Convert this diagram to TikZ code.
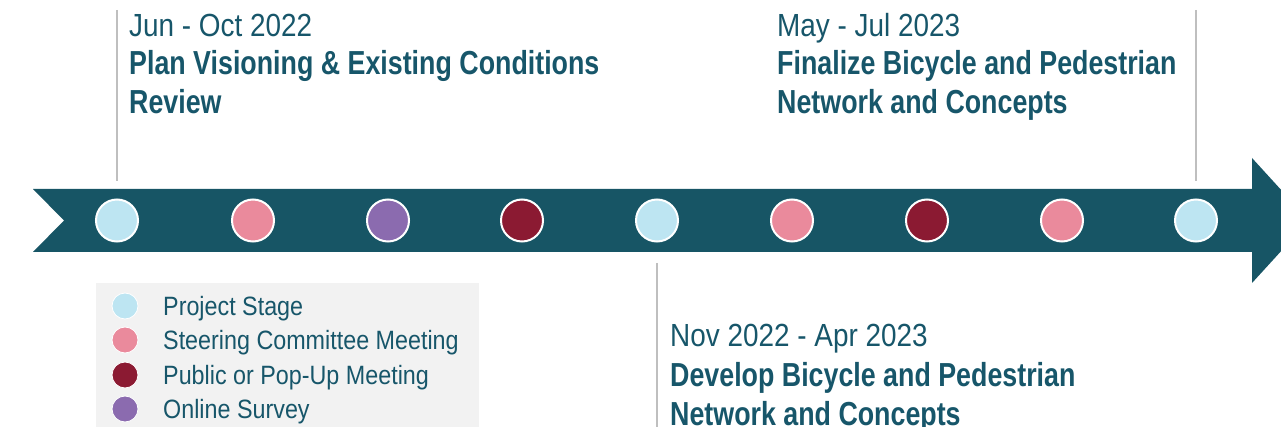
\documentclass[tikz,border=0pt]{standalone}
\usepackage{fontspec}
\setmainfont{Liberation Sans}
\newfontfamily\datef{Liberation Sans}[FakeStretch=0.872]
\newfontfamily\titlef{Liberation Sans}[FakeStretch=0.805]
\newfontfamily\legf{Liberation Sans}[FakeStretch=0.88]
\definecolor{band}{HTML}{175565}
\definecolor{txt}{HTML}{17566A}
\definecolor{stage}{HTML}{BDE5F2}
\definecolor{steer}{HTML}{EA8A9C}
\definecolor{public}{HTML}{8B1A32}
\definecolor{survey}{HTML}{8B6BAF}
\definecolor{legbg}{HTML}{F2F2F2}
\definecolor{gline}{HTML}{BFBFBF}
\begin{document}
\begin{tikzpicture}[x=1pt,y=-1pt,
  dot/.style={circle,draw=white,line width=2pt,minimum size=42pt,inner sep=0pt},
  ldot/.style={circle,draw=white,line width=0.8pt,minimum size=26pt,inner sep=0pt},
  hdate/.style={anchor=base west,inner sep=0pt,text=txt,font=\datef\fontsize{32}{39}\selectfont},
  htitle/.style={anchor=base west,inner sep=0pt,text=txt,font=\titlef\fontsize{33.3}{39}\selectfont\bfseries,align=left},
  ltext/.style={anchor=base west,inner sep=0pt,text=txt,font=\legf\fontsize{26.5}{30}\selectfont},
  tick/.style={draw=gline,line width=1.6pt}]
\useasboundingbox (0,0) rectangle (1281,427);
\clip (0,0) rectangle (1281,427);
% arrow band
\fill[band] (33,189) -- (1252,189) -- (1252,158) -- (1309,220.5) -- (1252,283) -- (1252,252) -- (33,252) -- (64,220.5) -- cycle;
% ticks
\coordinate (t1a) at (117,10); \coordinate (t1b) at (117,181);
\coordinate (t2a) at (1196,10); \coordinate (t2b) at (1196,181);
\coordinate (t3a) at (657,263); \coordinate (t3b) at (657,430);
\draw[tick] (t1a) -- (t1b);
\draw[tick] (t2a) -- (t2b);
\draw[tick] (t3a) -- (t3b);
% dots
\node[dot,fill=stage]  (d1) at (117,220.5) {};
\node[dot,fill=steer]  (d2) at (253,220.5) {};
\node[dot,fill=survey] (d3) at (388,220.5) {};
\node[dot,fill=public] (d4) at (522,220.5) {};
\node[dot,fill=stage]  (d5) at (657,220.5) {};
\node[dot,fill=steer]  (d6) at (792,220.5) {};
\node[dot,fill=public] (d7) at (927,220.5) {};
\node[dot,fill=steer]  (d8) at (1062,220.5) {};
\node[dot,fill=stage]  (d9) at (1196,220.5) {};
% texts
\node[hdate] (h1) at (129,36.5) {Jun - Oct 2022};
\node[htitle] (b1) at (129,74.5) {Plan Visioning \& Existing Conditions};
\node[htitle] (c1) at (129,113.3) {Review};
\node[hdate] (h2) at (777,36.5) {May - Jul 2023};
\node[htitle] (b2) at (777,74.5) {Finalize Bicycle and Pedestrian};
\node[htitle] (c2) at (777,113.3) {Network and Concepts};
\node[hdate] (h3) at (670,346) {Nov 2022 - Apr 2023};
\node[htitle] (b3) at (670,386) {Develop Bicycle and Pedestrian};
\node[htitle] (c3) at (670,425.5) {Network and Concepts};
% legend
\fill[legbg] (96,283) rectangle (479,430);
\node[ldot,fill=stage]  (l1) at (125,306) {};
\node[ldot,fill=steer]  (l2) at (125,340) {};
\node[ldot,fill=public] (l3) at (125,375) {};
\node[ldot,fill=survey] (l4) at (125,409) {};
\node[ltext] (lt1) at (163,315.7) {Project Stage};
\node[ltext] (lt2) at (163,349.3) {Steering Committee Meeting};
\node[ltext] (lt3) at (163,384) {Public or Pop-Up Meeting};
\node[ltext] (lt4) at (163,418.3) {Online Survey};
\end{tikzpicture}
\end{document}
